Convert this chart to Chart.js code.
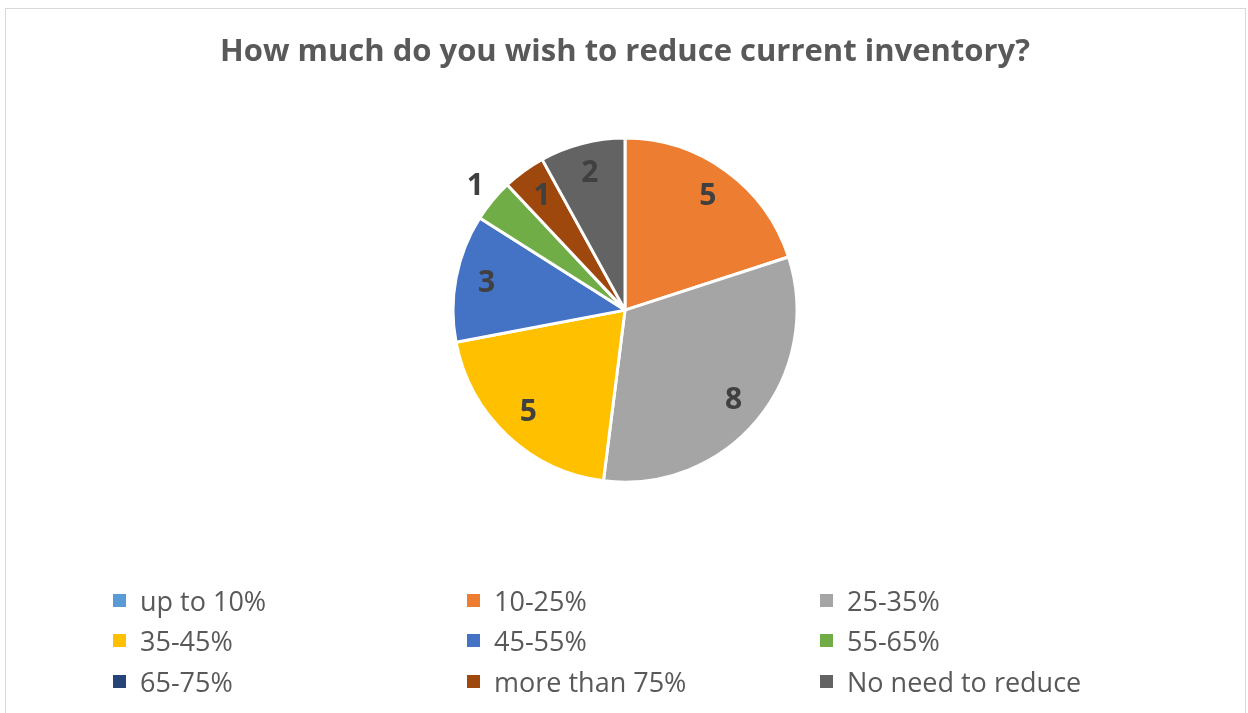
<!DOCTYPE html>
<html>
<head>
<meta charset="utf-8">
<script src="https://cdn.jsdelivr.net/npm/chart.js@4.4.1/dist/chart.umd.min.js"></script>
<style>
  html, body { margin: 0; padding: 0; background: #fff; overflow: hidden; }
  #frame { position: absolute; left: 5px; top: 8px; width: 1239px; height: 760px; border: 1.5px solid #d9d9d9; }
  #wrap { position: absolute; left: 0; top: 0; width: 1248px; height: 713px; }
  #legend { position: absolute; left: 113px; top: 580px; display: grid;
    grid-template-columns: 354px 353px auto; grid-auto-rows: 40.5px;
    font-family: 'Open Sans', sans-serif; font-size: 27px; color: #595959; }
  .lg-item { display: flex; align-items: center; white-space: nowrap; }
  .lg-box { width: 13px; height: 13px; margin-right: 14px; flex: none; }
</style>
</head>
<body>
<div id="frame"></div>
<div id="wrap"><canvas id="pie"></canvas></div>
<div id="legend"></div>
<script>
const categories = ['up to 10%', '10-25%', '25-35%', '35-45%', '45-55%', '55-65%', '65-75%', 'more than 75%', 'No need to reduce'];
const counts = [0, 5, 8, 5, 3, 1, 0, 1, 2];
const colors = ['#5B9BD5', '#ED7D31', '#A5A5A5', '#FFC000', '#4472C4', '#70AD47', '#264478', '#9E480E', '#636363'];
const outsideLabels = ['55-65%'];

const sliceLabels = {
  id: 'sliceLabels',
  afterDatasetsDraw(chart) {
    const ctx = chart.ctx;
    const meta = chart.getDatasetMeta(0);
    ctx.save();
    ctx.font = 'bold 30px "Open Sans", sans-serif';
    ctx.fillStyle = '#404040';
    ctx.textAlign = 'center';
    ctx.textBaseline = 'middle';
    meta.data.forEach((arc, i) => {
      const v = counts[i];
      if (!v) return;
      const p = arc.getProps(['x', 'y', 'startAngle', 'endAngle', 'outerRadius'], true);
      const mid = (p.startAngle + p.endAngle) / 2;
      const r = p.outerRadius * (outsideLabels.includes(categories[i]) ? 1.13 : 0.82);
      ctx.fillText(String(v), p.x + Math.cos(mid) * r, p.y + Math.sin(mid) * r);
    });
    ctx.restore();
  }
};

new Chart(document.getElementById('pie'), {
  type: 'pie',
  data: {
    labels: categories,
    datasets: [{
      data: counts,
      backgroundColor: colors,
      borderColor: '#ffffff',
      borderWidth: 3,
      hoverOffset: 0
    }]
  },
  options: {
    responsive: true, maintainAspectRatio: false,
    animation: false,
    radius: 172,
    layout: { padding: { left: 2, right: 0, top: 0, bottom: 174 } },
    plugins: {
      legend: { display: false },
      tooltip: { enabled: false },
      title: {
        display: true,
        text: 'How much do you wish to reduce current inventory?',
        color: '#595959',
        font: { family: 'Open Sans, sans-serif', size: 31, weight: 'bold' },
        padding: { top: 34, bottom: 10 }
      }
    }
  },
  plugins: [sliceLabels]
});

document.getElementById('legend').innerHTML = categories.map((c, i) =>
  `<div class="lg-item"><span class="lg-box" style="background:${colors[i]}"></span><span>${c}</span></div>`
).join('');
</script>
</body>
</html>
